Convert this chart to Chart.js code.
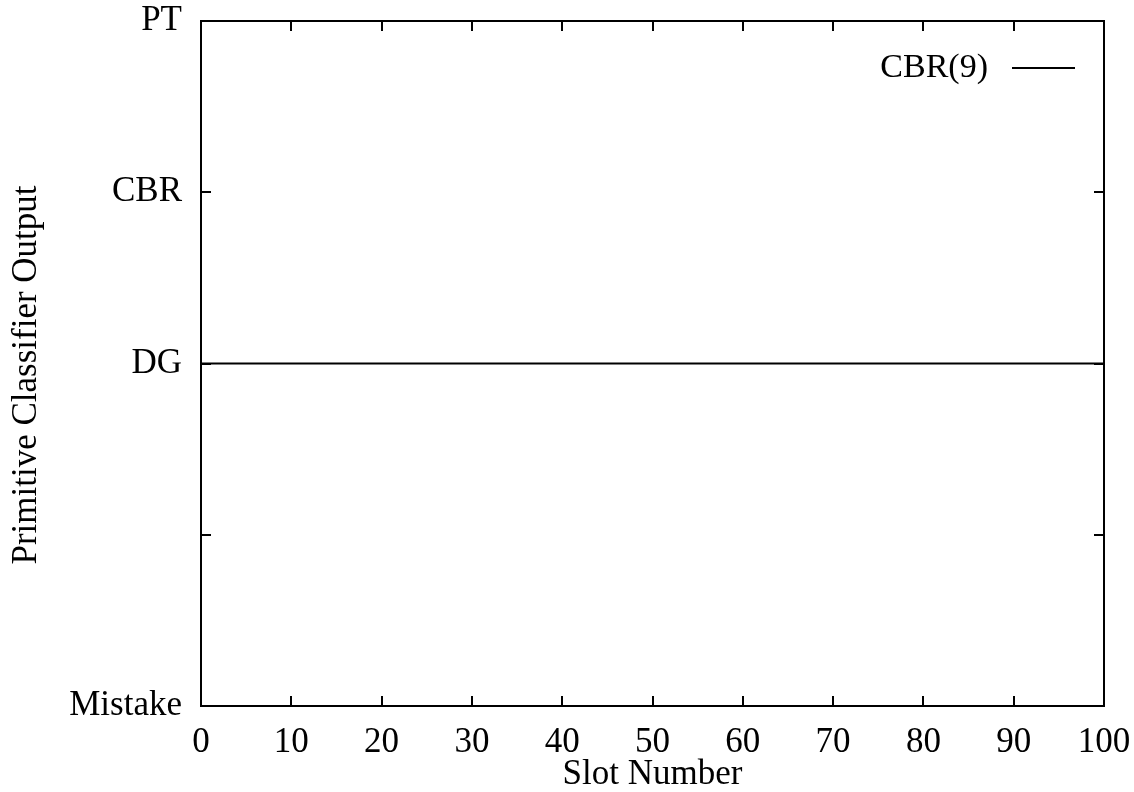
<!DOCTYPE html>
<html>
<head>
<meta charset="utf-8">
<script src="https://cdn.jsdelivr.net/npm/chart.js@4"></script>
<style>
  html, body { margin: 0; padding: 0; background: #fff; }
  #wrap { width: 1134px; height: 792px; }
</style>
</head>
<body>
<div id="wrap"><canvas id="myChart" width="1134" height="792"></canvas></div>
<script>
// slot numbers and classifier output (0 = Mistake ... 4 = PT)
var slots = [0, 10, 20, 30, 40, 50, 60, 70, 80, 90, 100];
var cbr9 = [2, 2, 2, 2, 2, 2, 2, 2, 2, 2, 2];
var outputLabels = ["Mistake", "", "DG", "CBR", "PT"];
var slotTicks = [0, 10, 20, 30, 40, 50, 60, 70, 80, 90, 100];

var serif = "'Liberation Serif', 'DejaVu Serif', serif";

// frame, inward ticks on all four sides, y title and the legend entry
var framePlugin = {
  id: "frame",
  afterDraw: function (chart) {
    var ctx = chart.ctx;
    var a = chart.chartArea;
    var xs = chart.scales.x;
    var ys = chart.scales.y;
    var len = 10;
    ctx.save();
    ctx.strokeStyle = "#000";
    ctx.lineWidth = 2;
    ctx.strokeRect(a.left, a.top, a.right - a.left, a.bottom - a.top);
    ctx.beginPath();
    xs.ticks.forEach(function (t) {
      var px = Math.round(xs.getPixelForValue(t.value));
      ctx.moveTo(px, a.bottom);
      ctx.lineTo(px, a.bottom - len);
      ctx.moveTo(px, a.top);
      ctx.lineTo(px, a.top + len);
    });
    ys.ticks.forEach(function (t) {
      var py = Math.round(ys.getPixelForValue(t.value));
      ctx.moveTo(a.left, py);
      ctx.lineTo(a.left + len, py);
      ctx.moveTo(a.right, py);
      ctx.lineTo(a.right - len, py);
    });
    ctx.stroke();

    ctx.fillStyle = "#000";

    // y axis title
    ctx.save();
    ctx.translate(27, 375);
    ctx.rotate(-Math.PI / 2);
    ctx.font = "35px " + serif;
    ctx.textAlign = "center";
    ctx.textBaseline = "middle";
    ctx.fillText("Primitive Classifier Output", 0, 0);
    ctx.restore();

    // legend
    var ds = chart.data.datasets[0];
    ctx.font = "34px " + serif;
    ctx.textAlign = "right";
    ctx.textBaseline = "middle";
    ctx.fillText(ds.label, 988, 68);
    ctx.beginPath();
    ctx.lineWidth = ds.borderWidth;
    ctx.moveTo(1012, 68);
    ctx.lineTo(1075, 68);
    ctx.stroke();
    ctx.restore();
  },
};

const ctx = document.getElementById("myChart");
new Chart(ctx, {
  type: "line",
  data: {
    labels: slots,
    datasets: [
      {
        label: "CBR(9)",
        data: cbr9,
        borderColor: "#000",
        borderWidth: 2,
        pointRadius: 0,
        tension: 0,
        fill: false,
      },
    ],
  },
  options: {
    responsive: false,
    animation: false,
    layout: {
      padding: { top: 21, right: 30, left: 0, bottom: 0 },
    },
    plugins: {
      legend: { display: false },
      tooltip: { enabled: false },
    },
    scales: {
      x: {
        type: "linear",
        min: 0,
        max: 100,
        afterBuildTicks: function (scale) {
          scale.ticks = slotTicks.map(function (v) { return { value: v }; });
        },
        afterFit: function (scale) {
          scale.height = 86;
          scale.paddingLeft = 0;
          scale.paddingRight = 0;
        },
        grid: { display: false, drawTicks: false },
        border: { display: false },
        ticks: {
          padding: 16,
          maxRotation: 0,
          autoSkip: false,
          color: "#000",
          font: { family: serif, size: 35 },
        },
        title: {
          display: true,
          text: "Slot Number",
          color: "#000",
          font: { family: serif, size: 35, lineHeight: 1 },
          padding: { top: 0, bottom: 0 },
        },
      },
      y: {
        type: "linear",
        min: 0,
        max: 4,
        afterFit: function (scale) {
          scale.width = 201;
          scale.paddingTop = 0;
          scale.paddingBottom = 0;
        },
        grid: { display: false, drawTicks: false },
        border: { display: false },
        ticks: {
          stepSize: 1,
          padding: 19,
          color: "#000",
          font: { family: serif, size: 35 },
          callback: function (value) {
            return outputLabels[value];
          },
        },
      },
    },
  },
  plugins: [framePlugin],
});
</script>
</body>
</html>
